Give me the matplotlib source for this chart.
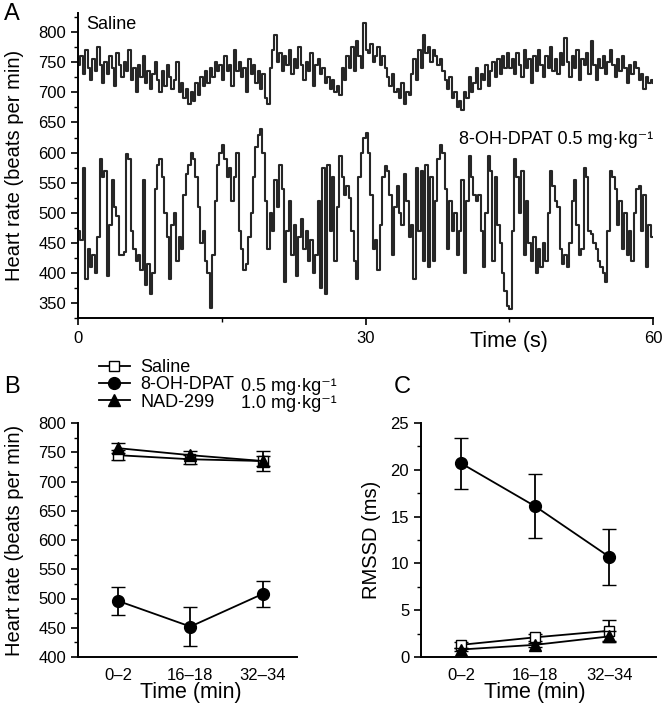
import numpy as np
import matplotlib
matplotlib.use('Agg')
import matplotlib.pyplot as plt
from matplotlib.lines import Line2D
from matplotlib.ticker import MultipleLocator

plt.rcParams['font.family'] = ['Liberation Sans', 'DejaVu Sans']
plt.rcParams['axes.linewidth'] = 1.4

# Panel A: beat-to-beat heart rate, 0.25 s samples over 60 s
saline_trace = [
    745, 760, 730, 770, 740, 720, 755, 735, 775, 745, 715, 750, 730, 760, 740, 710, 765, 745, 725, 750,
    735, 770, 720, 740, 700, 745, 725, 760, 715, 735, 705, 730, 750, 720, 700, 735, 710, 745, 725, 705,
    720, 750, 700, 715, 690, 705, 680, 700, 685, 715, 695, 725, 710, 735, 715, 740, 725, 750, 735, 745,
    720, 760, 735, 745, 710, 770, 735, 750, 725, 740, 700, 755, 730, 745, 715, 735, 705, 730, 690, 680,
    740, 770, 795, 750, 765, 735, 760, 745, 770, 730, 755, 740, 775, 745, 720, 750, 735, 765, 710, 745,
    755, 730, 740, 715, 725, 705, 720, 700, 710, 695, 740, 720, 760, 740, 775, 735, 785, 760, 740, 815,
    770, 765, 780, 750, 760, 775, 745, 760, 740, 725, 710, 730, 700, 705, 690, 715, 680, 700, 695, 730,
    755, 720, 770, 740, 795, 765, 775, 750, 770, 760, 745, 755, 735, 720, 705, 725, 690, 700, 675, 685,
    670, 700, 690, 725, 700, 715, 740, 705, 730, 720, 745, 710, 735, 750, 725, 755, 730, 760, 740, 765,
    740, 755, 730, 765, 745, 725, 770, 740, 755, 715, 760, 735, 770, 745, 725, 760, 740, 775, 735, 755,
    730, 765, 745, 790, 750, 725, 760, 740, 770, 720, 755, 745, 765, 730, 785, 745, 720, 755, 740, 760,
    730, 750, 770, 745, 725, 755, 735, 760, 740, 715, 745, 730, 750, 740, 720, 730, 705, 725, 715, 720,
    715,
]
dpat_trace = [
    470, 455, 575, 390, 440, 410, 430, 400, 460, 590, 560, 570, 395, 480, 555, 510, 495, 430, 430, 435,
    598, 590, 470, 440, 420, 430, 405, 555, 380, 415, 365, 400, 540, 580, 590, 560, 500, 460, 390, 480,
    500, 420, 460, 440, 530, 565, 580, 600, 590, 560, 510, 450, 470, 420, 400, 342, 430, 520, 580, 600,
    612, 590, 560, 575, 520, 560, 600, 470, 440, 405, 415, 460, 500, 560, 610, 630, 640, 600, 520, 440,
    500, 470, 555, 510, 580, 540, 385, 470, 520, 430, 480, 395, 460, 490, 440, 470, 420, 455, 400, 430,
    520, 375, 575, 365, 580, 470, 560, 420, 510, 595, 560, 530, 545, 525, 470, 420, 390, 560, 600, 625,
    633, 600, 530, 440, 455, 405, 480, 560, 578, 570, 530, 430, 510, 545, 500, 480, 565, 520, 460, 480,
    390, 575, 470, 570, 420, 580, 410, 560, 420, 520, 590, 612, 600, 540, 440, 520, 470, 500, 430, 470,
    555, 400, 520, 595, 560, 530, 520, 530, 470, 410, 500, 595, 570, 420, 560, 480, 450, 400, 370, 345,
    340, 470, 590, 560, 500, 570, 430, 520, 450, 420, 460, 400, 440, 410, 450, 420, 500, 570, 545, 520,
    510, 440, 415, 430, 410, 450, 520, 555, 480, 430, 440, 575, 560, 470, 465, 450, 440, 420, 410, 400,
    385, 470, 570, 560, 540, 480, 520, 440, 500, 430, 470, 420, 500, 540, 545, 470, 530, 410, 480, 460,
    460,
]
trace_time = np.arange(len(saline_trace)) * 0.25

# Panels B and C: group means and SEM
periods = ['0\u20132', '16\u201318', '32\u201334']
hr_saline = [745, 738, 735]
hr_saline_err = [8, 8, 9]
hr_dpat = [496, 452, 508]
hr_dpat_err = [24, 34, 22]
hr_nad = [757, 745, 735]
hr_nad_err = [8, 7, 17]
rmssd_saline = [1.3, 2.1, 2.8]
rmssd_saline_err = [0.3, 0.4, 1.1]
rmssd_dpat = [20.7, 16.1, 10.7]
rmssd_dpat_err = [2.7, 3.4, 3.0]
rmssd_nad = [0.8, 1.3, 2.2]
rmssd_nad_err = [0.2, 0.2, 0.6]

TICK_FS = 12
LABEL_FS = 14.5
XLAB_FS = 15.5
NOTE_FS = 13
LETTER_FS = 17
UNIT = 'mg\u00b7kg\u207b\u00b9'

fig = plt.figure(figsize=(6.62, 7.10), dpi=100)

# ---- Panel A
axA = fig.add_axes([78/662, 1 - 318/710, 575/662, 305/710])
axA.plot(trace_time, saline_trace, drawstyle='steps-post', color='#262626', lw=1.5)
axA.plot(trace_time, dpat_trace, drawstyle='steps-post', color='#262626', lw=1.5)
axA.set_xlim(0, 60)
axA.set_ylim(325, 832)
axA.xaxis.set_major_locator(MultipleLocator(30))
axA.xaxis.set_minor_locator(MultipleLocator(15))
axA.yaxis.set_minor_locator(MultipleLocator(25))
axA.set_yticks(np.arange(350, 801, 50))
axA.set_ylabel('Heart rate (beats per min)', fontsize=LABEL_FS)
axA.yaxis.set_label_coords(-0.094, 0.5)
axA.set_xlabel('Time (s)', fontsize=XLAB_FS)
axA.xaxis.set_label_coords(0.75, -0.042)
axA.text(0.014, 0.99, 'Saline', transform=axA.transAxes, fontsize=NOTE_FS, va='top')
axA.text(0.663, 0.584, '8-OH-DPAT 0.5 ' + UNIT, transform=axA.transAxes,
         fontsize=NOTE_FS, va='center')
fig.text(4/662, 1 - 14/710, 'A', fontsize=LETTER_FS, va='center')

# ---- Panel B
axB = fig.add_axes([78/662, 1 - 657/710, 219/662, 234/710])
axB.errorbar(range(3), hr_saline, yerr=hr_saline_err, color='black', marker='s', ms=7,
             mfc='white', mec='black', lw=1.3, capsize=5, elinewidth=1.3, zorder=3)
axB.errorbar(range(3), hr_dpat, yerr=hr_dpat_err, color='black', marker='o', ms=8.5,
             lw=1.3, capsize=5, elinewidth=1.3, zorder=3)
axB.errorbar(range(3), hr_nad, yerr=hr_nad_err, color='black', marker='^', ms=8.5,
             lw=1.3, capsize=5, elinewidth=1.3, zorder=4)
axB.set_xlim(-0.55, 2.47)
axB.set_ylim(400, 800)
axB.yaxis.set_major_locator(MultipleLocator(50))
axB.yaxis.set_minor_locator(MultipleLocator(25))
axB.set_xticks(range(3))
axB.set_xticklabels(periods)
axB.set_ylabel('Heart rate (beats per min)', fontsize=LABEL_FS)
axB.yaxis.set_label_coords(-0.247, 0.5)
axB.set_xlabel('Time (min)', fontsize=XLAB_FS)
axB.xaxis.set_label_coords((1 + 0.55) / 3.02, -0.108)

handles = [
    Line2D([], [], color='black', lw=1.3, marker='s', ms=7, mfc='white', mec='black'),
    Line2D([], [], color='black', lw=1.3, marker='o', ms=8.5),
    Line2D([], [], color='black', lw=1.3, marker='^', ms=8.5),
]
axB.legend(handles, ['Saline', '8-OH-DPAT', 'NAD-299'], loc='upper left',
           bbox_to_anchor=(99/662, 1 - 359/710), bbox_transform=fig.transFigure,
           frameon=False, fontsize=NOTE_FS, handlelength=1.7, handletextpad=0.6,
           labelspacing=0.02, borderpad=0, borderaxespad=0)
fig.text(241/662, 1 - 386/710, '0.5 ' + UNIT, fontsize=NOTE_FS, va='center')
fig.text(241/662, 1 - 404/710, '1.0 ' + UNIT, fontsize=NOTE_FS, va='center')
fig.text(4/662, 1 - 387/710, 'B', fontsize=LETTER_FS, va='center')

# ---- Panel C
axC = fig.add_axes([421/662, 1 - 657/710, 235/662, 234/710])
axC.errorbar(range(3), rmssd_saline, yerr=rmssd_saline_err, color='black', marker='s', ms=7,
             mfc='white', mec='black', lw=1.3, capsize=5, elinewidth=1.3, zorder=3)
axC.errorbar(range(3), rmssd_dpat, yerr=rmssd_dpat_err, color='black', marker='o', ms=8.5,
             lw=1.3, capsize=5, elinewidth=1.3, zorder=3)
axC.errorbar(range(3), rmssd_nad, yerr=rmssd_nad_err, color='black', marker='^', ms=8.5,
             lw=1.3, capsize=5, elinewidth=1.3, zorder=4)
axC.set_xlim(-0.54, 2.63)
axC.set_ylim(0, 25)
axC.yaxis.set_major_locator(MultipleLocator(5))
axC.yaxis.set_minor_locator(MultipleLocator(2.5))
axC.set_xticks(range(3))
axC.set_xticklabels(periods)
axC.set_ylabel('RMSSD (ms)', fontsize=LABEL_FS)
axC.yaxis.set_label_coords(-0.17, 0.5)
axC.set_xlabel('Time (min)', fontsize=XLAB_FS)
axC.xaxis.set_label_coords((1 + 0.54) / 3.17, -0.108)
fig.text(394/662, 1 - 387/710, 'C', fontsize=LETTER_FS, va='center')

for ax in (axA, axB, axC):
    ax.spines['top'].set_visible(False)
    ax.spines['right'].set_visible(False)
    ax.tick_params(labelsize=TICK_FS, width=1.2)
    ax.tick_params(which='major', length=5)
    ax.tick_params(which='minor', length=3, width=1)
axA.tick_params(axis='x', which='both', pad=4)
axB.tick_params(axis='x', which='both', length=0, pad=8)
axC.tick_params(axis='x', which='both', length=0, pad=8)

fig.savefig('out.png', dpi=100)
